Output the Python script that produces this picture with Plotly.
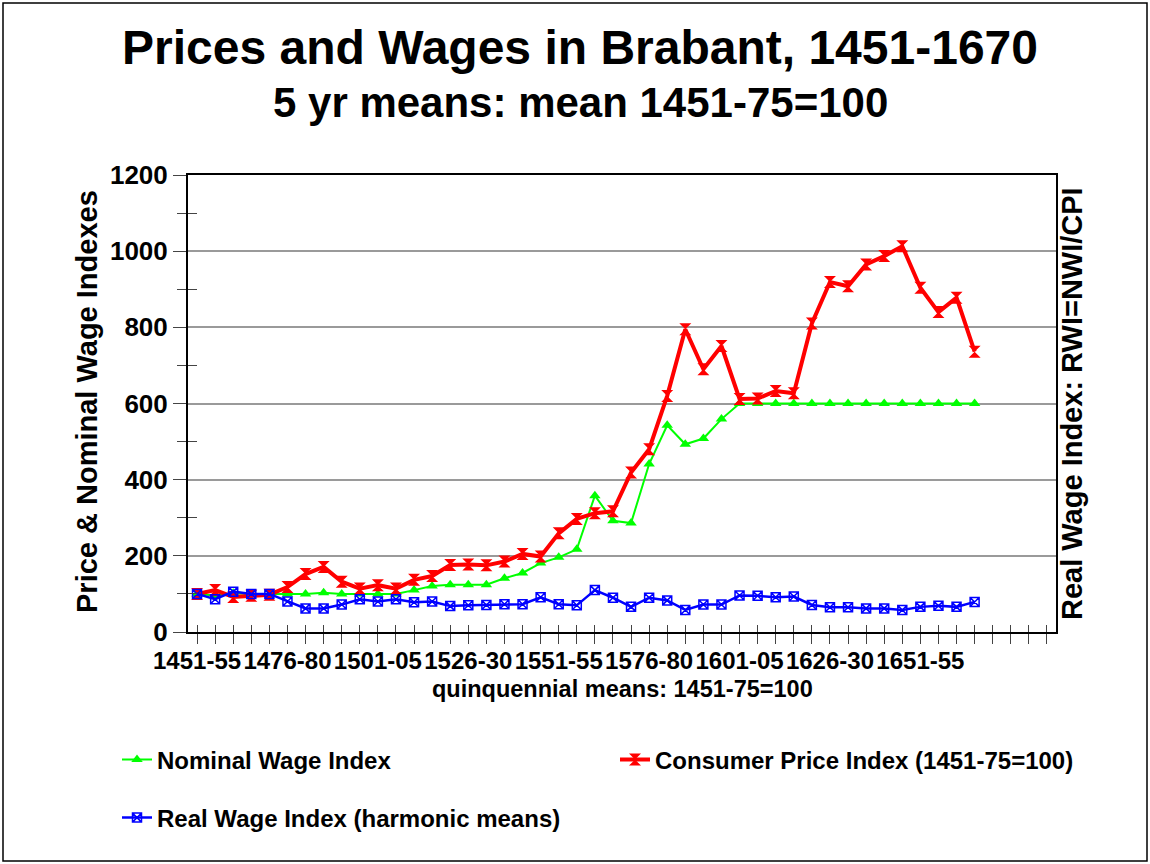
import plotly.graph_objects as go

# ---------------- data ----------------
periods = ["1451-55", "1456-60", "1461-65", "1466-70", "1471-75", "1476-80", "1481-85", "1486-90", "1491-95", "1496-1500",
           "1501-05", "1506-10", "1511-15", "1516-20", "1521-25", "1526-30", "1531-35", "1536-40", "1541-45", "1546-50",
           "1551-55", "1556-60", "1561-65", "1566-70", "1571-75", "1576-80", "1581-85", "1586-90", "1591-95", "1596-1600",
           "1601-05", "1606-10", "1611-15", "1616-20", "1621-25", "1626-30", "1631-35", "1636-40", "1641-45", "1646-50",
           "1651-55", "1656-60", "1661-65", "1666-70"]

nominal_wage = [100, 96, 102, 100, 100, 100, 100, 103, 100, 100,
                100, 100, 110, 121, 124, 124, 124, 141, 155, 181,
                196, 217, 358, 292, 286, 441, 543, 493, 508, 559,
                600, 600, 600, 600, 600, 600, 600, 600, 600, 600,
                600, 600, 600, 600]

cpi = [100, 110, 92, 95, 98, 118, 152, 171, 132, 114,
       123, 114, 137, 147, 176, 177, 175, 185, 205, 198,
       259, 297, 312, 317, 419, 480, 620, 795, 690, 751,
       612, 613, 633, 627, 810, 919, 908, 965, 987, 1013,
       904, 840, 878, 736]

real_wage = [100, 86, 106, 100, 100, 80, 62, 62, 72, 86,
             80, 86, 78, 80, 68, 70, 71, 73, 73, 91,
             73, 70, 110, 90, 66, 90, 83, 58, 72, 72,
             96, 95, 91, 93, 71, 65, 65, 62, 62, 58,
             66, 69, 66, 79]

tick_labels = ["1451-55", "1476-80", "1501-05", "1526-30", "1551-55",
               "1576-80", "1601-05", "1626-30", "1651-55"]
n_slots = 48  # category slots on the axis

# ---------------- figure ----------------
FONT = "Liberation Sans, Arial, sans-serif"
x = list(range(len(periods)))
tick_idx = [periods.index(t) for t in tick_labels]

fig = go.Figure()
fig.add_trace(go.Scatter(
    x=x, y=nominal_wage, name="Nominal Wage Index", mode="lines+markers",
    line=dict(color="#00FF00", width=2),
    marker=dict(symbol="triangle-up", size=10, color="#00FF00"),
    legend="legend", customdata=periods,
    hovertemplate="%{customdata}: %{y}<extra></extra>"))
fig.add_trace(go.Scatter(
    x=x, y=cpi, name="Consumer Price Index (1451-75=100)", mode="lines+markers",
    line=dict(color="#FF0000", width=4),
    marker=dict(symbol="hourglass", size=12, color="#FF0000"),
    legend="legend", customdata=periods,
    hovertemplate="%{customdata}: %{y}<extra></extra>"))
fig.add_trace(go.Scatter(
    x=x, y=real_wage, name="Real Wage Index (harmonic means)", mode="lines+markers",
    line=dict(color="#0000FF", width=2.5),
    marker=dict(symbol="square-x-open", size=9, color="#0000FF", line=dict(width=1.5, color="#0000FF")),
    xaxis="x2", yaxis="y2", legend="legend2", customdata=periods,
    hovertemplate="%{customdata}: %{y}<extra></extra>"))

W, H = 1150, 864
L, R, T, B = 188, 94, 175, 232
pw, ph = W - L - R, H - T - B


def px(xp):
    return (xp - L) / pw


def py(yp):
    return (H - B - yp) / ph


tickfont = dict(family=FONT, size=24, color="black", weight="bold")
legfont = dict(family=FONT, size=24, color="black", weight="bold")

fig.update_layout(
    width=W, height=H,
    margin=dict(l=L, r=R, t=T, b=B, pad=0),
    paper_bgcolor="white", plot_bgcolor="white",
    font=dict(family=FONT, color="black"),
    showlegend=True,
    xaxis=dict(range=[-0.5, n_slots - 0.5], tickmode="array", tickvals=tick_idx, ticktext=tick_labels,
               tickangle=0, ticks="outside", ticklen=10, tickwidth=1, tickcolor="#444",
               minor=dict(ticks="outside", tickmode="linear", tick0=0, dtick=1, ticklen=10,
                          tickwidth=1, tickcolor="#444", showgrid=False),
               showline=True, linecolor="black", linewidth=2, mirror=True,
               showgrid=False, zeroline=False, tickfont=tickfont, ticklabelstandoff=-4,
               fixedrange=True),
    yaxis=dict(range=[0, 1200], tickmode="linear", tick0=0, dtick=200,
               ticks="outside", ticklen=13, tickwidth=1, tickcolor="#444",
               minor=dict(ticks="outside", tickmode="array", tickvals=[100, 300, 500, 700, 900, 1100],
                          ticklen=9, tickwidth=1, tickcolor="#444", showgrid=False),
               showline=True, linecolor="black", linewidth=2, mirror=True,
               showgrid=True, gridcolor="#9a9a9a", gridwidth=1.5, zeroline=False,
               tickfont=dict(family=FONT, size=26, color="black", weight="bold"),
               fixedrange=True),
    xaxis2=dict(overlaying="x", anchor="y2", range=[-0.5, n_slots - 0.5], tickmode="linear", tick0=0, dtick=1,
                ticks="inside", ticklen=7, tickwidth=1, tickcolor="#444", showticklabels=False,
                showline=False, showgrid=False, zeroline=False, fixedrange=True),
    yaxis2=dict(overlaying="y", anchor="x2", side="left", range=[0, 1200], tickmode="array",
                tickvals=[100, 300, 500, 700, 900, 1100],
                ticks="inside", ticklen=9, tickwidth=1, tickcolor="#444", showticklabels=False,
                showline=False, showgrid=False, zeroline=False, fixedrange=True),
    legend=dict(orientation="h", x=px(117), y=py(760), xanchor="left", yanchor="middle",
                entrywidth=453, entrywidthmode="pixels", bgcolor="rgba(0,0,0,0)",
                font=legfont, itemclick=False),
    legend2=dict(orientation="h", x=px(117), y=py(818), xanchor="left", yanchor="middle",
                 bgcolor="rgba(0,0,0,0)", font=legfont, itemclick=False),
    annotations=[
        dict(text="Prices and Wages in Brabant, 1451-1670", xref="paper", yref="paper",
             x=px(580), y=py(47), xanchor="center", yanchor="middle", showarrow=False,
             font=dict(family=FONT, size=48, color="black", weight="bold")),
        dict(text="5 yr means: mean 1451-75=100", xref="paper", yref="paper",
             x=px(580), y=py(103), xanchor="center", yanchor="middle", showarrow=False,
             font=dict(family=FONT, size=42, color="black", weight="bold")),
        dict(text="Price & Nominal Wage Indexes", xref="paper", yref="paper",
             x=px(87), y=py(402), xanchor="center", yanchor="middle", textangle=-90, showarrow=False,
             font=dict(family=FONT, size=29, color="black", weight="bold")),
        dict(text="Real Wage Index: RWI=NWI/CPI", xref="paper", yref="paper",
             x=px(1072), y=py(404), xanchor="center", yanchor="middle", textangle=-90, showarrow=False,
             font=dict(family=FONT, size=29, color="black", weight="bold")),
        dict(text="quinquennial means: 1451-75=100", xref="paper", yref="paper",
             x=px(622), y=py(689), xanchor="center", yanchor="middle", showarrow=False,
             font=dict(family=FONT, size=23.5, color="black", weight="bold")),
    ],
    shapes=[
        dict(type="rect", xref="paper", yref="paper", x0=px(3), x1=px(1147), y0=py(861), y1=py(3),
             line=dict(color="black", width=1.5), fillcolor="rgba(0,0,0,0)", layer="below"),
    ],
)

fig.write_html("out.html", config={"displayModeBar": False},
               post_script="document.body.style.margin='0px';document.body.style.overflow='hidden';")
